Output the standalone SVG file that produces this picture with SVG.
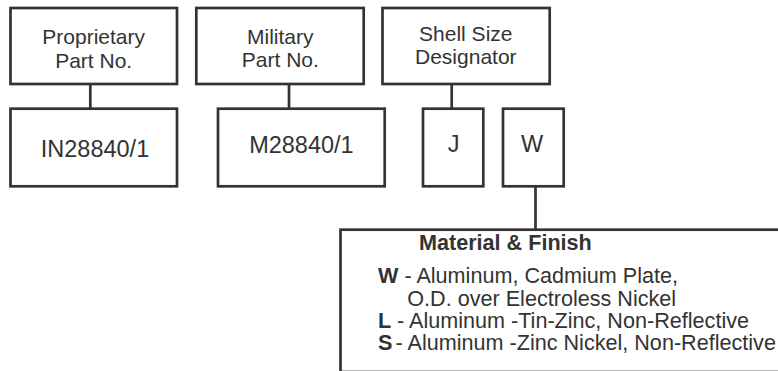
<svg xmlns="http://www.w3.org/2000/svg" width="778" height="371" viewBox="0 0 778 371">
<style>
.box{fill:#fff;stroke:#333;stroke-width:2.7}
.ln{fill:none;stroke:#333;stroke-width:2.7}
text{font-family:"Liberation Sans",Arial,sans-serif;fill:#333}
.lbl{font-size:21px;text-anchor:middle}
.pn{font-size:23.5px;text-anchor:middle}
.mt{font-size:21.6px}
.b{font-weight:bold}
</style>
<rect width="778" height="371" fill="#fff"/>
<g id="connectors">
<line class="ln" x1="90.3" y1="84" x2="90.3" y2="108.7"/>
<line class="ln" x1="289" y1="84" x2="289" y2="108.7"/>
<line class="ln" x1="451.7" y1="84" x2="451.7" y2="108.7"/>
<line class="ln" x1="535.5" y1="186.3" x2="535.5" y2="229.7"/>
</g>
<g id="proprietary">
<rect class="box" x="10.5" y="8" width="166.5" height="76"/>
<text class="lbl" x="93.7" y="44">Proprietary</text>
<text class="lbl" x="93.7" y="67.7">Part No.</text>
</g>
<g id="military">
<rect class="box" x="196.3" y="8" width="167.4" height="76"/>
<text class="lbl" x="280.3" y="44">Military</text>
<text class="lbl" x="280.3" y="67">Part No.</text>
</g>
<g id="shell">
<rect class="box" x="382.5" y="8" width="167.2" height="76"/>
<text class="lbl" x="465.8" y="40.7">Shell Size</text>
<text class="lbl" x="465.8" y="64.3">Designator</text>
</g>
<g id="in28840">
<rect class="box" x="10.5" y="108.7" width="166.5" height="77.6"/>
<text class="pn" x="95" y="157">IN28840/1</text>
</g>
<g id="m28840">
<rect class="box" x="218" y="108.7" width="166.7" height="77.6"/>
<text class="pn" x="301.4" y="152.7">M28840/1</text>
</g>
<g id="j">
<rect class="box" x="423" y="108.7" width="60.3" height="77.6"/>
<text class="pn" x="453.5" y="151.7">J</text>
</g>
<g id="w">
<rect class="box" x="503" y="108.7" width="60.7" height="77.6"/>
<text class="pn" x="532" y="151.7">W</text>
</g>
<g id="material">
<rect class="box" x="340.5" y="229.7" width="460" height="142.3"/>
<text class="mt b" x="419" y="250">Material &amp; Finish</text>
<text class="mt" x="378" y="282.7"><tspan class="b">W</tspan> - Aluminum, Cadmium Plate,</text>
<text class="mt" x="407.3" y="306">O.D. over Electroless Nickel</text>
<text class="mt" x="378" y="328"><tspan class="b">L</tspan><tspan x="397">- Aluminum -Tin-Zinc, Non-Reflective</tspan></text>
<text class="mt" x="378" y="349.5"><tspan class="b">S</tspan><tspan x="395.5">- Aluminum -Zinc Nickel, Non-Reflective</tspan></text>
</g>
</svg>
